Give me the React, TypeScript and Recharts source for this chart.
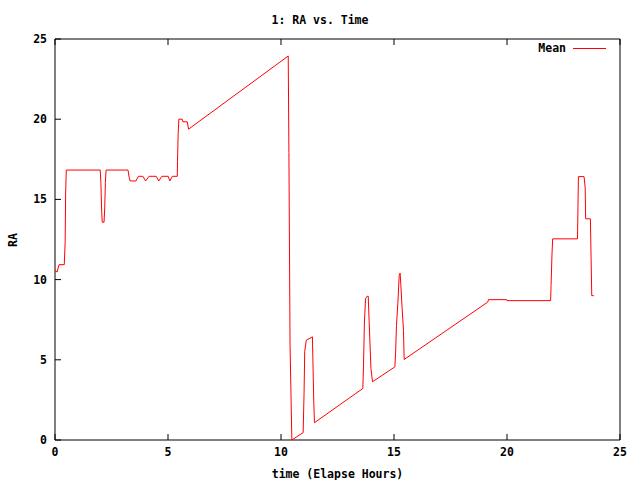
import { LineChart, Line, XAxis, YAxis, ReferenceArea } from "recharts";

// elapsed hours and mean RA
const timeHours = [
  0.0, 0.09, 0.18, 0.41, 0.45, 0.47, 0.5, 2.0, 2.03, 2.06, 2.09, 2.17, 2.2, 2.23, 2.26,
  3.23, 3.28, 3.32, 3.58, 3.69, 3.89, 4.01, 4.16, 4.48, 4.59, 4.73, 5.01, 5.08, 5.19, 5.41,
  5.42, 5.45, 5.48, 5.63, 5.66, 5.85, 5.91, 10.32, 10.35, 10.4, 10.48, 10.98, 11.02, 11.05,
  11.12, 11.39, 11.41, 11.45, 11.48, 13.62, 13.65, 13.69, 13.74, 13.81, 13.86, 13.9, 13.98,
  14.05, 15.04, 15.07, 15.11, 15.17, 15.23, 15.27, 15.3, 15.36, 15.42, 15.45, 19.15, 19.18,
  19.99, 20.0, 21.93, 21.95, 21.99, 22.02, 23.12, 23.14, 23.16, 23.41, 23.46, 23.48, 23.69,
  23.72, 23.75, 23.84,
];
const raMean = [
  10.57, 10.47, 10.93, 10.93, 12.37, 15.34, 16.83, 16.83, 16.06, 14.47, 13.58, 13.58, 14.47, 16.06, 16.83,
  16.83, 16.38, 16.15, 16.15, 16.44, 16.44, 16.15, 16.44, 16.44, 16.15, 16.44, 16.44, 16.15, 16.44, 16.44,
  17.35, 19.11, 20.0, 20.0, 19.84, 19.84, 19.38, 23.94, 17.93, 5.97, 0.0, 0.46, 2.9, 5.53,
  6.22, 6.43, 5.12, 2.38, 1.08, 3.21, 4.56, 7.3, 8.81, 8.96, 8.96, 7.4, 4.46,
  3.63, 4.56, 5.43, 7.15, 8.5, 10.26, 10.4, 9.74, 8.19, 6.84, 5.02, 8.6, 8.75,
  8.75, 8.69, 8.69, 9.64, 11.57, 12.54, 12.54, 14.51, 16.42, 16.42, 15.71, 13.79, 13.79,
  11.4, 9.0, 9.0,
];
const xTicks = [0, 5, 10, 15, 20, 25];
const yTicks = [0, 5, 10, 15, 20, 25];

const font = "'DejaVu Sans Mono', 'Liberation Mono', monospace";
const tickStyle = { fontFamily: font, fontSize: 11.5, fontWeight: "bold", fill: "#000" };
const TICK = 6;
const GAP = 8;

// gnuplot style ticks: marks point into the plot box
const BottomTick = ({ x, y, payload }: any) => (
  <g>
    <line x1={x} y1={y - GAP} x2={x} y2={y - GAP - TICK} stroke="#000" />
    <text x={x} y={y} dy="0.71em" textAnchor="middle" style={tickStyle}>
      {payload.value}
    </text>
  </g>
);
const LeftTick = ({ x, y, payload }: any) => (
  <g>
    <line x1={x + GAP} y1={y} x2={x + GAP + TICK} y2={y} stroke="#000" />
    <text x={x} y={y} dy="0.355em" textAnchor="end" style={tickStyle}>
      {payload.value}
    </text>
  </g>
);
const TopTick = ({ x, y }: any) => <line x1={x} y1={y} x2={x} y2={y + TICK} stroke="#000" />;
const RightTick = ({ x, y }: any) => <line x1={x} y1={y} x2={x - TICK} y2={y} stroke="#000" />;

export default function App() {
  const data = timeHours.map((t, i) => ({ t, ra: raMean[i] }));

  return (
    <div style={{ position: "absolute", left: 0, top: 0, width: 640, height: 480, background: "#fff" }}>
      <div
        style={{
          position: "absolute",
          top: 13,
          width: 640,
          textAlign: "center",
          fontFamily: font,
          fontSize: 11.5,
          fontWeight: "bold",
        }}
      >
        1: RA vs. Time
      </div>
      <div
        style={{
          position: "absolute",
          top: 41,
          right: 34,
          display: "flex",
          alignItems: "center",
          fontFamily: font,
          fontSize: 11.5,
          fontWeight: "bold",
          zIndex: 2,
        }}
      >
        <span>Mean</span>
        <span style={{ display: "inline-block", width: 33, height: 1, background: "#ff0000", marginLeft: 7 }} />
      </div>
      <LineChart width={640} height={480} data={data} margin={{ top: 38, right: 19, left: 0, bottom: 0 }}>
        <XAxis
          dataKey="t"
          type="number"
          domain={[0, 25]}
          ticks={xTicks}
          height={40}
          axisLine={false}
          tickLine={false}
          tickSize={0}
          tickMargin={GAP}
          tick={<BottomTick />}
          label={{
            value: "time (Elapse Hours)",
            position: "insideBottom",
            offset: 2,
            style: { ...tickStyle, textAnchor: "middle" },
          }}
        />
        <XAxis
          xAxisId="top"
          dataKey="t"
          type="number"
          orientation="top"
          domain={[0, 25]}
          ticks={xTicks}
          height={1}
          axisLine={false}
          tickLine={false}
          tickSize={0}
          tickMargin={0}
          tick={<TopTick />}
        />
        <YAxis
          type="number"
          domain={[0, 25]}
          ticks={yTicks}
          width={55}
          axisLine={false}
          tickLine={false}
          tickSize={0}
          tickMargin={GAP}
          tick={<LeftTick />}
          label={{
            content: () => (
              <text x={17} y={240} transform="rotate(-90 17 240)" textAnchor="middle" style={tickStyle}>
                RA
              </text>
            ),
          }}
        />
        <YAxis
          yAxisId="right"
          type="number"
          orientation="right"
          domain={[0, 25]}
          ticks={yTicks}
          width={1}
          axisLine={false}
          tickLine={false}
          tickSize={0}
          tickMargin={0}
          tick={<RightTick />}
        />
        <ReferenceArea x1={0} x2={25} y1={0} y2={25} fill="none" stroke="#000" strokeWidth={1} ifOverflow="visible" />
        <Line
          type="linear"
          dataKey="ra"
          stroke="#ff0000"
          strokeWidth={1}
          dot={false}
          isAnimationActive={false}
        />
      </LineChart>
    </div>
  );
}
